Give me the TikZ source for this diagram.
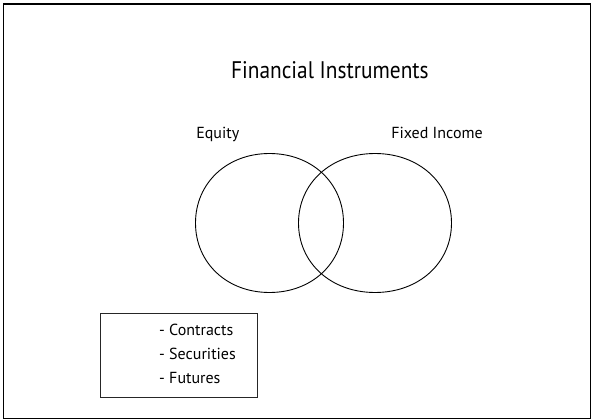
\documentclass[tikz,border=0pt]{standalone}
\usepackage{fontspec}
\setmainfont{PT Sans}
\newfontfamily\titlefont{PT Sans}[FakeStretch=0.89]
\def\vennk{0.575}
\begin{document}
\begin{tikzpicture}[x=1pt,y=-1pt,
  venn/.style={draw=black,line width=0.9pt},
  lbl/.style={inner sep=0pt,anchor=base,font=\fontsize{16}{19}\selectfont},
  itm/.style={inner sep=0pt,anchor=base west,font=\fontsize{16}{19}\selectfont}]
\useasboundingbox (0,0) rectangle (592,420);
\draw[line width=1.6pt,black] (3.5,4) rectangle (590.5,418.5);
\node[inner sep=0pt,anchor=base,font=\titlefont\fontsize{24}{28}\selectfont] (title) at (329.9,78.3) {Financial Instruments};
\node[lbl] (eq) at (217.8,138.3) {Equity};
\node[lbl] (fi) at (437,138.6) {Fixed Income};
\begin{scope}[shift={(269.5,223)},x=74pt,y=-69.5pt]
\draw[venn] (1,0) .. controls (1,\vennk) and (\vennk,1) .. (0,1)
  .. controls (-\vennk,1) and (-1,\vennk) .. (-1,0)
  .. controls (-1,-\vennk) and (-\vennk,-1) .. (0,-1)
  .. controls (\vennk,-1) and (1,-\vennk) .. cycle;
\end{scope}
\begin{scope}[shift={(375,223)},x=76.5pt,y=-69.5pt]
\draw[venn] (1,0) .. controls (1,\vennk) and (\vennk,1) .. (0,1)
  .. controls (-\vennk,1) and (-1,\vennk) .. (-1,0)
  .. controls (-1,-\vennk) and (-\vennk,-1) .. (0,-1)
  .. controls (\vennk,-1) and (1,-\vennk) .. cycle;
\end{scope}
\node[draw=black!85,line width=0.9pt,inner sep=0pt,minimum width=157.8pt,minimum height=84pt,anchor=north west] (box) at (99.6,312.7) {};
\node[itm] (c1) at (159,335.7) {- Contracts};
\node[itm] (c2) at (159,359.5) {- Securities};
\node[itm] (c3) at (159,383.3) {- Futures};
\end{tikzpicture}
\end{document}
